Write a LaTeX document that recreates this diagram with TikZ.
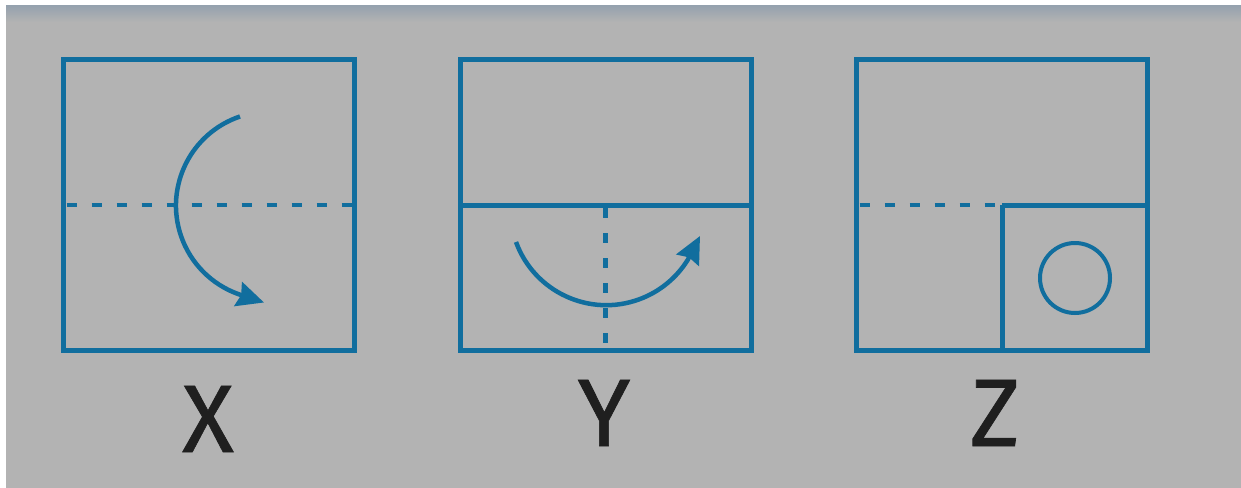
\documentclass[tikz,border=0pt]{standalone}
\usepackage{fontspec}
\setmainfont{Fira Sans}
\newfontfamily\markfont[FakeBold=0.7]{Fira Sans}
\usepackage{tikz}
\usetikzlibrary{arrows.meta,positioning,calc}

\definecolor{panelgray}{RGB}{179,179,179}
\definecolor{shadegray}{RGB}{150,162,174}
\definecolor{foldblue}{RGB}{17,110,158}

\begin{document}
\begin{tikzpicture}[
    x=1pt, y=-1pt,
    frame/.style={rectangle, draw=foldblue, line width=5pt, minimum width=291pt, minimum height=290pt, inner sep=0pt, outer sep=0pt},
    fold/.style={draw=foldblue, line width=5pt},
    foldline/.style={draw=foldblue, line width=4.5pt, dash pattern=on 10pt off 15pt, dash phase=-3pt},
    turn/.style={draw=foldblue, line width=4.5pt, -{Stealth[length=27pt, width=25pt, inset=3pt]}},
    hole/.style={circle, draw=foldblue, line width=4pt, minimum size=70pt, inner sep=0pt},
    letter/.style={anchor=base, font=\markfont\fontsize{96}{96}\selectfont, text=black!88}
]

% Background
\useasboundingbox (0,0) rectangle (1241,487);
\fill[white] (-10,-10) rectangle (1260,500);
\fill[panelgray] (6,6) rectangle (1260,500);
\shade[top color=shadegray, bottom color=panelgray] (6,6) rectangle (1241,22);

% Box X
\node[frame] (boxX) at (209,205) {};
\draw[foldline] (boxX.west) -- (boxX.east);
\coordinate (tipX) at (264,302.5);
\draw[turn] (240,116.5) arc[start angle=251.4, end angle=109.5, radius=94] -- (tipX);

% Box Y
\node[frame] (boxY) at (605.5,205) {};
\draw[fold] (boxY.west) -- (boxY.east);
\draw[foldline] (boxY.center) -- (boxY.south);
\coordinate (tipY) at (700,236);
\draw[turn] (516,242) arc[start angle=160, end angle=31.7, radius=96] -- (tipY);

% Box Z
\node[frame] (boxZ) at (1002,205) {};
\draw[foldline] (boxZ.west) -- (boxZ.center);
\draw[fold] (boxZ.center) -- (boxZ.east);
\draw[fold] (boxZ.center) -- (boxZ.south);
\node[hole] (holeZ) at (1075,278) {};

% Labels
\node[letter] (labelX) at (208,452) {X};
\node[letter] (labelY) at (604,446) {Y};
\node[letter] (labelZ) at (995,446) {Z};

\end{tikzpicture}
\end{document}
